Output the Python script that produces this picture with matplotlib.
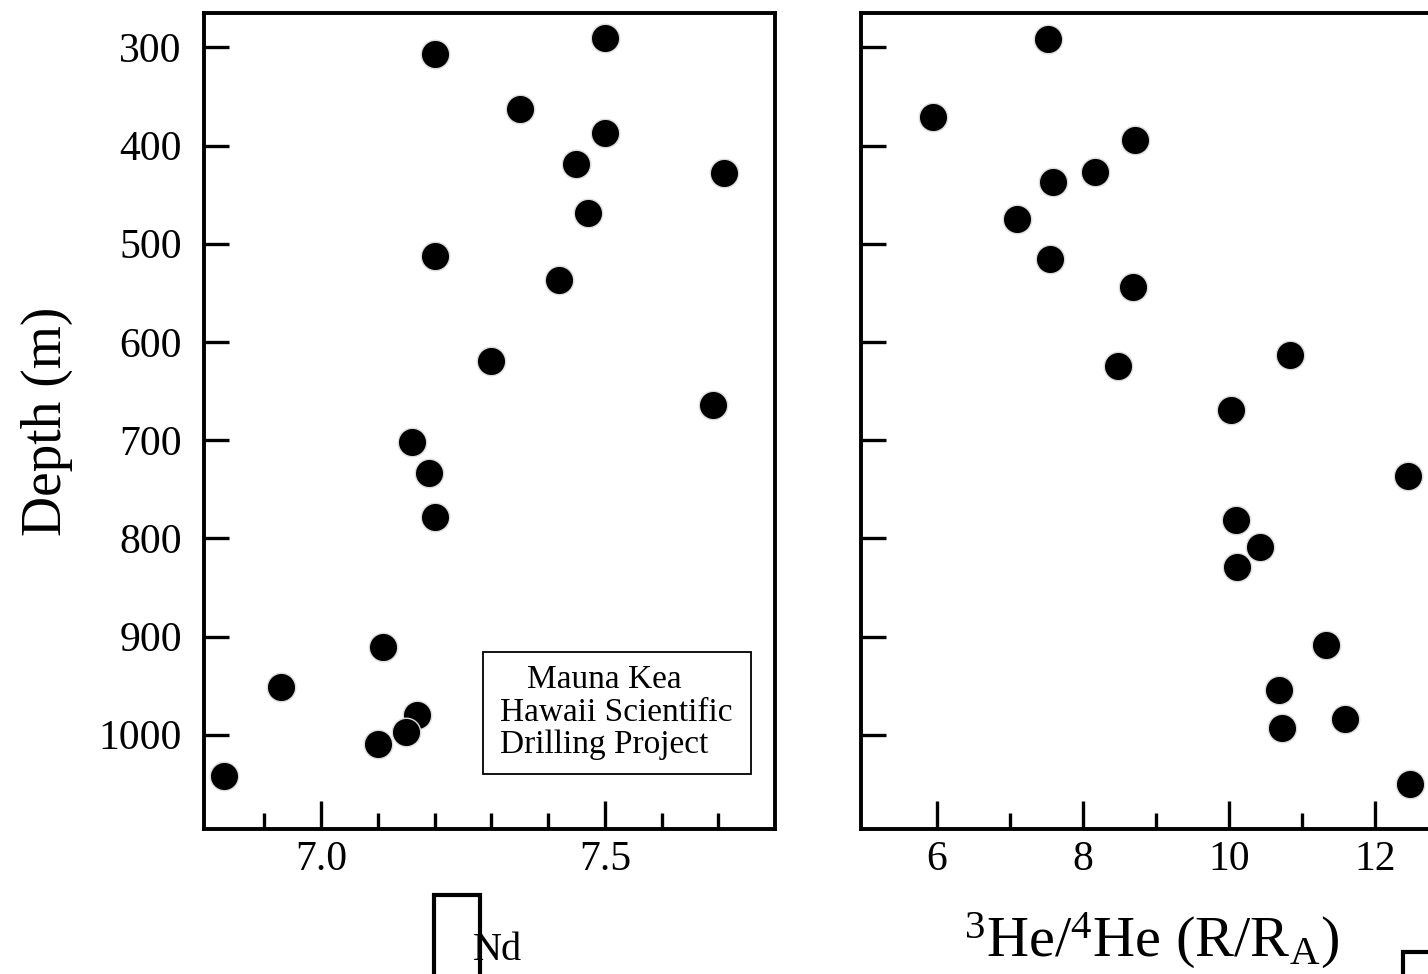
import numpy as np
import matplotlib
matplotlib.use('Agg')
import matplotlib.pyplot as plt
from matplotlib.patches import Rectangle

plt.rcParams['font.family'] = 'Liberation Serif'
plt.rcParams['mathtext.fontset'] = 'custom'
plt.rcParams['mathtext.rm'] = 'Liberation Serif'
plt.rcParams['mathtext.it'] = 'Liberation Serif:italic'

# epsilon Nd vs depth
nd_eps = [7.50, 7.20, 7.35, 7.50, 7.45, 7.71, 7.47, 7.20, 7.42, 7.30,
          7.69, 7.16, 7.19, 7.20, 7.11, 6.93, 7.17, 7.15, 7.10, 6.83]
nd_depth = [290, 307, 363, 387, 419, 428, 469, 513, 537, 619,
            664, 702, 734, 778, 911, 951, 980, 997, 1009, 1042]

# 3He/4He vs depth
he_ratio = [7.52, 5.95, 8.71, 8.16, 7.59, 7.10, 7.55, 8.68, 10.84, 8.48,
            10.03, 12.45, 10.10, 10.42, 10.11, 11.32, 10.68, 11.58, 10.73, 12.48]
he_depth = [292, 371, 394, 427, 437, 475, 516, 544, 613, 625,
            669, 737, 781, 809, 829, 909, 954, 984, 993, 1050]

depth_ticks = [300, 400, 500, 600, 700, 800, 900, 1000]
nd_major = [7.0, 7.5]
nd_minor = [6.9, 7.1, 7.2, 7.3, 7.4, 7.6, 7.7]
he_major = [6, 8, 10, 12]
he_minor = [7, 9, 11]

fig = plt.figure(figsize=(14.28, 9.74), dpi=100)
ax1 = fig.add_axes([0.1429, 0.1489, 0.3999, 0.8378])
ax2 = fig.add_axes([0.6030, 0.1489, 0.4265, 0.8378])


def style(ax):
    for s in ax.spines.values():
        s.set_linewidth(2.8)
    ax.spines['right'].set_visible(ax is ax1)
    ax.tick_params(axis='both', which='both', direction='in', width=2.4,
                   top=False, right=False)
    ax.tick_params(axis='y', which='major', length=18, pad=16, labelsize=30)
    ax.tick_params(axis='x', which='major', length=20, pad=8, labelsize=30)
    ax.tick_params(axis='x', which='minor', length=11.5)
    ax.set_ylim(1096, 265)
    ax.set_yticks(depth_ticks)


dot = dict(marker='o', linestyle='none', markersize=20.5,
           markerfacecolor='black', markeredgecolor='#dddddd',
           markeredgewidth=1.0)

ax1.plot(nd_eps, nd_depth, **dot)
style(ax1)
ax1.set_xlim(6.794, 7.80)
ax1.set_xticks(nd_major)
ax1.set_xticklabels(['7.0', '7.5'])
ax1.set_xticks(nd_minor, minor=True)
ax1.set_ylabel('Depth (m)', fontsize=40, labelpad=18)

ax1.add_patch(Rectangle((0.4886, 0.0674), 0.4694, 0.1495,
                        transform=ax1.transAxes, fill=False,
                        edgecolor='black', linewidth=1.3))
ax1.text(0.5657, 0.1826, 'Mauna Kea', transform=ax1.transAxes,
         fontsize=24, va='center', ha='left')
ax1.text(0.5184, 0.1422, 'Hawaii Scientific', transform=ax1.transAxes,
         fontsize=24, va='center', ha='left')
ax1.text(0.5184, 0.1029, 'Drilling Project', transform=ax1.transAxes,
         fontsize=24, va='center', ha='left')

ax2.plot(he_ratio, he_depth, **dot)
style(ax2)
ax2.set_xlim(4.96, 13.3)
ax2.set_xticks(he_major)
ax2.set_xticks(he_minor, minor=True)
ax2.set_yticklabels([])

# axis titles under the panels
fig.text(473 / 1428, (974 - 960) / 974, 'Nd', fontsize=29,
         ha='left', va='baseline')
fig.add_artist(Rectangle((434 / 1428, -0.02), 46 / 1428, (974 - 895) / 974 + 0.02,
                         transform=fig.transFigure, fill=False,
                         edgecolor='black', linewidth=3.0))
fig.text(1151 / 1428, (974 - 957) / 974,
         r'$^{3}$He/$^{4}$He (R/R$_{\mathrm{A}}$)', fontsize=42,
         ha='center', va='baseline')
fig.add_artist(Rectangle((1403 / 1428, -0.02), 0.05, (974 - 952) / 974 + 0.02,
                         transform=fig.transFigure, fill=False,
                         edgecolor='black', linewidth=3.0))

fig.savefig('out.png', dpi=100)
